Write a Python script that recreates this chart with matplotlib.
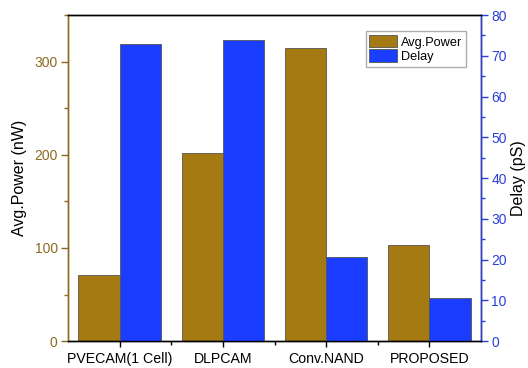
import matplotlib.pyplot as plt
import numpy as np
from matplotlib.ticker import MultipleLocator

categories = ["PVECAM(1 Cell)", "DLPCAM", "Conv.NAND", "PROPOSED"]
avg_power = [71, 202, 315, 103]   # nW
delay = [73, 74, 20.6, 10.7]      # pS

brown = "#A57A12"
blue = "#1A3DFF"
brown_axis = "#8C6A22"
blue_axis = "#2B3FD8"

plt.rcParams['font.family'] = ['Liberation Sans', 'DejaVu Sans']

fig, ax = plt.subplots(figsize=(5.28, 3.68), dpi=100)
fig.subplots_adjust(left=0.129, right=0.911, top=0.959, bottom=0.073)
ax2 = ax.twinx()

x = np.arange(len(categories))
w = 0.4
ax.bar(x - w / 2, avg_power, w, color=brown, edgecolor="#555555", linewidth=0.6,
       label="Avg.Power")
ax2.bar(x + w / 2, delay, w, color=blue, edgecolor="#555555", linewidth=0.6,
        label="Delay")

ax.set_xlim(-0.5, 3.5)
ax.set_ylim(0, 350)
ax2.set_ylim(0, 80)

ax.set_xticks(x)
ax.set_xticklabels(categories, fontsize=10.2)
ax.set_xticks([0.5, 1.5, 2.5], minor=True)
ax.tick_params(axis="x", which="both", direction="out", length=4, width=1)
ax.tick_params(axis="x", which="minor", length=3)

ax.yaxis.set_major_locator(MultipleLocator(100))
ax.yaxis.set_minor_locator(MultipleLocator(50))
ax.tick_params(axis="y", which="both", colors=brown_axis, labelsize=10,
               direction="out", width=1, pad=2.5)
ax.tick_params(axis="y", which="major", length=5)
ax.tick_params(axis="y", which="minor", length=3)
ax.set_ylabel("Avg.Power (nW)", fontsize=11.5, labelpad=5)

ax2.yaxis.set_major_locator(MultipleLocator(10))
ax2.yaxis.set_minor_locator(MultipleLocator(5))
ax2.tick_params(axis="y", which="both", colors=blue_axis, labelsize=10,
                direction="out", width=1, pad=2.5)
ax2.tick_params(axis="y", which="major", length=5)
ax2.tick_params(axis="y", which="minor", length=3)
ax2.set_ylabel("Delay (pS)", fontsize=11.5, labelpad=3)

ax.spines["left"].set_color(brown_axis)
ax2.spines["left"].set_color(brown_axis)
ax2.spines["right"].set_color(blue_axis)
for a in (ax, ax2):
    for s in a.spines.values():
        s.set_linewidth(1)

h1, l1 = ax.get_legend_handles_labels()
h2, l2 = ax2.get_legend_handles_labels()
ax2.legend(h1 + h2, l1 + l2, loc="upper right", bbox_to_anchor=(0.963, 0.95),
           fontsize=9.2, frameon=True, fancybox=False, edgecolor="#999999",
           handlelength=2.2, handleheight=1.1, labelspacing=0.05,
           borderpad=0.3, handletextpad=0.25, borderaxespad=0)

fig.savefig("out.png", dpi=100)
